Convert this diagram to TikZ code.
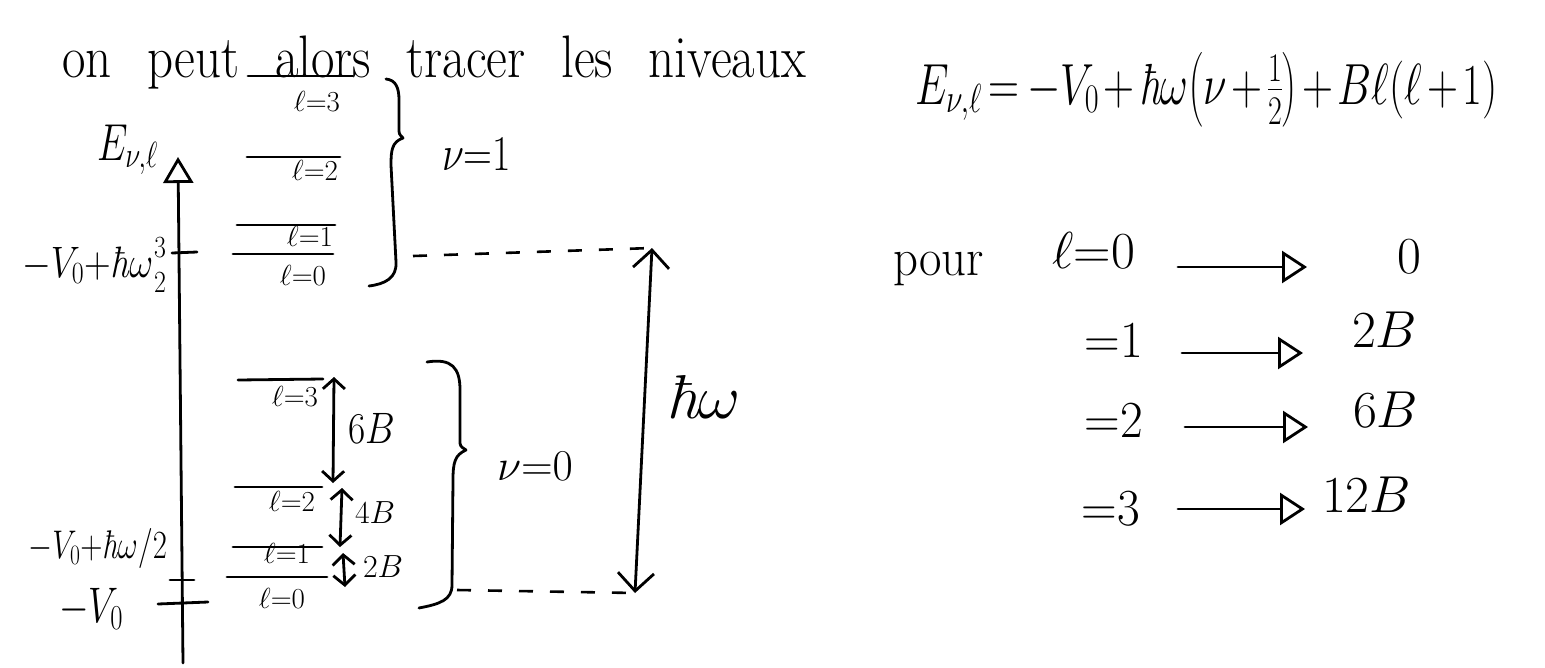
\RequirePackage{fix-cm}
\documentclass[tikz,border=0pt]{standalone}
\usepackage{amsmath}
\usepackage{graphicx}
\usetikzlibrary{arrows.meta}
\newcommand\hsc[2]{\scalebox{#1}[1]{#2}}
\newcommand\fsz[1]{\fontsize{#1}{#1}\selectfont}
\newcommand\hb{\text{\itshape ħ}}
\begin{document}
\begin{tikzpicture}[x=1pt,y=-1pt,
  ink/.style={line width=2.8pt,line cap=round,line join=round},
  txt/.style={inner sep=0pt,outer sep=0pt},
  tri/.style={ink,-{Triangle[open,length=25pt,width=32pt]}},
  axisarrow/.style={ink,-{Triangle[open,length=26pt,width=30pt]}},
  dbl/.style={ink,{Straight Barb[length=10pt,width=22pt]}-{Straight Barb[length=10pt,width=22pt]}},
  bigdbl/.style={ink,{Straight Barb[length=18pt,width=36pt]}-{Straight Barb[length=18pt,width=36pt]}},
  dashline/.style={line width=2.6pt,dash pattern=on 14pt off 17pt},
  lvl/.style={ink},
  brace/.style={ink},
  lvllab/.style={txt,font=\fsz{29}},
]
\useasboundingbox (0,0) rectangle (1545,667);

% ---- title and formula
\node[txt,anchor=base west,font=\fsz{60}] (title) at (62,77)
  {\hsc{0.85}{\spaceskip=42pt on peut alors tracer les niveaux}};
\node[txt,anchor=base west,font=\fsz{58}] (eq) at (915,104)
  {\hsc{0.74}{$\medmuskip=2mu\thickmuskip=3mu E_{\nu,\ell}=-V_0+\hb\omega\bigl(\nu+\tfrac{1}{2}\bigr)+B\ell(\ell+1)$}};

% ---- energy axis
\coordinate (ax0) at (183,663);
\coordinate (ax1) at (178,157);
\draw[axisarrow] (ax0) -- (ax1);
\node[txt,anchor=base west,font=\fsz{52}] (Elab) at (97,160) {\hsc{0.75}{$E_{\nu,\ell}$}};

% ticks
\coordinate (t1a) at (172,253); \coordinate (t1b) at (197,252);
\coordinate (t2a) at (170,580); \coordinate (t2b) at (194,580);
\coordinate (t3a) at (158,604); \coordinate (t3b) at (208,602);
\draw[ink] (t1a) -- (t1b);
\draw[ink] (t2a) -- (t2b);
\draw[ink] (t3a) -- (t3b);
\node[txt,anchor=base east,font=\fsz{44}] (tk1) at (167,277)
  {\hsc{0.84}{$\medmuskip=0mu -V_0+\hb\omega\genfrac{}{}{0pt}{}{3}{2}$}};
\node[txt,anchor=base east,font=\fsz{40}] (tk2) at (167,558)
  {\hsc{0.77}{$\medmuskip=0mu -V_0+\hb\omega/2$}};
\node[txt,anchor=base east,font=\fsz{50}] (tk3) at (123,622)
  {\hsc{0.76}{$-V_0$}};

% ---- nu = 1 levels
\coordinate (u3a) at (248,76);  \coordinate (u3b) at (353,76);
\coordinate (u2a) at (247,157); \coordinate (u2b) at (340,157);
\coordinate (u1a) at (237,225); \coordinate (u1b) at (335,225);
\coordinate (u0a) at (233,254); \coordinate (u0b) at (333,254);
\draw[lvl] (u3a) -- (u3b);
\draw[lvl] (u2a) -- (u2b);
\draw[lvl] (u1a) -- (u1b);
\draw[lvl] (u0a) -- (u0b);
\node[lvllab] (ul3) at (317,101) {$\ell{=}3$};
\node[lvllab] (ul2) at (315,170) {$\ell{=}2$};
\node[lvllab] (ul1) at (310,236) {$\ell{=}1$};
\node[lvllab] (ul0) at (303,275) {$\ell{=}0$};
\draw[brace] (386,79) .. controls (396,80) and (399,88) .. (399,100) -- (399,128)
  .. controls (399,134) .. (403,138) .. controls (392,142) and (391,150) .. (391,165)
  -- (396,262) .. controls (397,278) and (385,284) .. (369,286);
\node[txt,anchor=base west,font=\fsz{50}] (nu1) at (442,170) {\hsc{0.8}{$\nu{=}1$}};

% ---- nu = 0 levels
\coordinate (d3a) at (238,380); \coordinate (d3b) at (323,379);
\coordinate (d2a) at (235,487); \coordinate (d2b) at (322,487);
\coordinate (d1a) at (233,547); \coordinate (d1b) at (322,547);
\coordinate (d0a) at (227,577); \coordinate (d0b) at (327,577);
\draw[lvl] (d3a) -- (d3b);
\draw[lvl] (d2a) -- (d2b);
\draw[lvl] (d1a) -- (d1b);
\draw[lvl] (d0a) -- (d0b);
\node[lvllab] (dl3) at (295,396) {$\ell{=}3$};
\node[lvllab] (dl2) at (292,501) {$\ell{=}2$};
\node[lvllab] (dl1) at (287,553) {$\ell{=}1$};
\node[lvllab] (dl0) at (282,598) {$\ell{=}0$};

% spacings
\coordinate (g6t) at (334,377); \coordinate (g6b) at (333,483);
\coordinate (g4t) at (342,488); \coordinate (g4b) at (340,547);
\coordinate (g2t) at (343,553); \coordinate (g2b) at (345,587);
\draw[dbl] (g6t) -- (g6b);
\draw[dbl] (g4t) -- (g4b);
\draw[dbl] (g2t) -- (g2b);
\node[txt,anchor=base west,font=\fsz{44}] (s6) at (348,443) {\hsc{0.85}{$6B$}};
\node[txt,anchor=base west,font=\fsz{32}] (s4) at (355,523) {$4B$};
\node[txt,anchor=base west,font=\fsz{32}] (s2) at (363,577) {$2B$};

\draw[brace] (427,362) .. controls (452,358) and (460,368) .. (460,390) -- (460,440)
  .. controls (460,446) .. (466,450) .. controls (455,455) and (453,462) .. (453,480)
  -- (452,585) .. controls (452,600) and (440,604) .. (419,608);
\node[txt,anchor=base west,font=\fsz{44}] (nu0) at (497,480) {$\nu{=}0$};

% ---- hbar omega gap
\coordinate (bu) at (413,256);
\coordinate (bl) at (457,590);
\coordinate (hwT) at (652,248);
\coordinate (hwB) at (635,593);
\draw[dashline] (bu) -- (hwT);
\draw[dashline] (bl) -- (hwB);
\draw[bigdbl] (hwT) -- (hwB);
\node[txt,anchor=base west,font=\fsz{62}] (hw) at (666,418) {\hsc{1.05}{$\hb\omega$}};

% ---- rotational energies
\node[txt,anchor=base west,font=\fsz{53}] (pour) at (893,275) {\hsc{0.92}{pour}};
\node[txt,anchor=base east,font=\fsz{52}] (e0) at (1135,268) {$\ell{=}0$};
\node[txt,anchor=base east,font=\fsz{52}] (e1) at (1143,357) {\hsc{0.95}{${=}1$}};
\node[txt,anchor=base east,font=\fsz{52}] (e2) at (1143,437) {\hsc{0.95}{${=}2$}};
\node[txt,anchor=base east,font=\fsz{52}] (e3) at (1140,525) {\hsc{0.95}{${=}3$}};
\node[txt,anchor=base west,font=\fsz{52}] (r0) at (1397,273) {$0$};
\node[txt,anchor=base west,font=\fsz{52}] (r1) at (1352,347) {$2B$};
\node[txt,anchor=base west,font=\fsz{52}] (r2) at (1353,427) {$6B$};
\node[txt,anchor=base west,font=\fsz{52}] (r3) at (1322,512) {$12B$};
\draw[tri] ([shift={(43pt,1pt)}]e0.base east) -- ([shift={(-90pt,6pt)}]r0.base west);
\draw[tri] ([shift={(39pt,4pt)}]e1.base east) -- ([shift={(-49pt,-6pt)}]r1.base west);
\draw[tri] ([shift={(42pt,10pt)}]e2.base east) -- ([shift={(-45pt,0pt)}]r2.base west);
\draw[tri] ([shift={(38pt,16pt)}]e3.base east) -- ([shift={(-17pt,3pt)}]r3.base west);
\end{tikzpicture}
\end{document}
